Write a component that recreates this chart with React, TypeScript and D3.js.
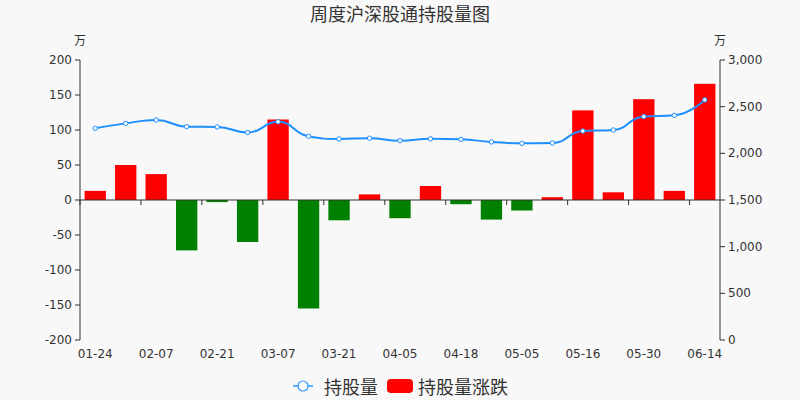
import React from "react";
import * as d3 from "d3";

const categories = [
  "01-24", "01-31", "02-07", "02-14", "02-21", "02-28", "03-07", "03-14", "03-21", "03-28",
  "04-05", "04-11", "04-18", "04-25", "05-05", "05-09", "05-16", "05-23", "05-30", "06-06", "06-14",
];
const holdings = [
  2268, 2321, 2357, 2286, 2283, 2223, 2338, 2183, 2154, 2162,
  2136, 2156, 2150, 2122, 2107, 2111, 2239, 2250, 2394, 2407, 2573,
];
const changes = [
  13, 50, 37, -72, -3, -60, 115, -155, -29, 8,
  -26, 20, -6, -28, -15, 4, 128, 11, 144, 13, 166,
];
const leftTicks = [-200, -150, -100, -50, 0, 50, 100, 150, 200];
const rightTicks = [0, 500, 1000, 1500, 2000, 2500, 3000];

const W = 800;
const H = 400;
const L = 80, R = 720, T = 60, B = 340;
const FONT = "'DejaVu Sans', 'Noto Sans CJK SC', sans-serif";
const CJK = "'Noto Sans CJK SC', 'DejaVu Sans', sans-serif";
const TXT = "#333";

// echarts-like smooth line (smooth = 0.5)
function smoothPath(pts: [number, number][], smooth = 0.5) {
  const p = d3.path();
  let cpx0 = 0, cpy0 = 0;
  const n = pts.length;
  for (let i = 0; i < n; i++) {
    const [x, y] = pts[i];
    if (i === 0) {
      p.moveTo(x, y);
      cpx0 = x; cpy0 = y;
      continue;
    }
    const [prevX, prevY] = pts[i - 1];
    let cpx1 = x, cpy1 = y, nextCpx0 = x, nextCpy0 = y;
    if (i < n - 1) {
      const [nextX, nextY] = pts[i + 1];
      let vx = nextX - prevX, vy = nextY - prevY;
      const dx0 = x - prevX, dy0 = y - prevY, dx1 = nextX - x, dy1 = nextY - y;
      const lenPrev = Math.sqrt(dx0 * dx0 + dy0 * dy0);
      const lenNext = Math.sqrt(dx1 * dx1 + dy1 * dy1);
      const ratio = lenNext / (lenNext + lenPrev);
      nextCpx0 = x + vx * smooth * ratio;
      nextCpy0 = y + vy * smooth * ratio;
      nextCpx0 = Math.max(Math.min(nextCpx0, Math.max(nextX, x)), Math.min(nextX, x));
      nextCpy0 = Math.max(Math.min(nextCpy0, Math.max(nextY, y)), Math.min(nextY, y));
      vx = nextCpx0 - x; vy = nextCpy0 - y;
      cpx1 = x - vx * lenPrev / lenNext;
      cpy1 = y - vy * lenPrev / lenNext;
      cpx1 = Math.max(Math.min(cpx1, Math.max(prevX, x)), Math.min(prevX, x));
      cpy1 = Math.max(Math.min(cpy1, Math.max(prevY, y)), Math.min(prevY, y));
      vx = x - cpx1; vy = y - cpy1;
      nextCpx0 = x + vx * lenNext / lenPrev;
      nextCpy0 = y + vy * lenNext / lenPrev;
    }
    p.bezierCurveTo(cpx0, cpy0, cpx1, cpy1, x, y);
    cpx0 = nextCpx0; cpy0 = nextCpy0;
  }
  return p.toString();
}

export default function App() {
  const x = d3.scaleBand<string>().domain(categories).range([L, R]).padding(0);
  const step = x.bandwidth();
  const barW = step * 0.7;
  const yL = d3.scaleLinear().domain([-200, 200]).range([B, T]);
  const yR = d3.scaleLinear().domain([0, 3000]).range([B, T]);
  const fmt = d3.format(",");
  const cx = (c: string) => (x(c) as number) + step / 2;
  const pts: [number, number][] = categories.map((c, i) => [cx(c), yR(holdings[i])]);
  const zeroY = yL(0);

  return (
    <svg
      width={W}
      height={H}
      style={{ position: "fixed", left: 0, top: 0, background: "#F8F8F8" }}
    >
      <rect x={0} y={0} width={W} height={H} fill="#F8F8F8" />
      <text x={400} y={13} textAnchor="middle" dominantBaseline="central"
        fontFamily={CJK} fontSize={18} fill={TXT}>周度沪深股通持股量图</text>

      {/* unit labels */}
      <text x={L} y={39} textAnchor="middle" dominantBaseline="central" fontFamily={CJK} fontSize={12} fill={TXT}>万</text>
      <text x={R} y={39} textAnchor="middle" dominantBaseline="central" fontFamily={CJK} fontSize={12} fill={TXT}>万</text>

      {/* bars */}
      {categories.map((c, i) => {
        const v = changes[i];
        const y0 = yL(Math.max(0, v));
        const y1 = yL(Math.min(0, v));
        return (
          <rect key={c} x={cx(c) - barW / 2} y={y0} width={barW} height={Math.max(0.5, y1 - y0)}
            fill={v >= 0 ? "#FF0000" : "#008000"} />
        );
      })}

      {/* left axis */}
      <line x1={L} x2={L} y1={T} y2={B} stroke={TXT} strokeWidth={1} />
      {leftTicks.map((t) => (
        <g key={"l" + t}>
          <line x1={L - 5} x2={L} y1={yL(t)} y2={yL(t)} stroke={TXT} />
          <text x={L - 8} y={yL(t)} textAnchor="end" dominantBaseline="central"
            fontFamily={FONT} fontSize={12} fill={TXT}>{t}</text>
        </g>
      ))}

      {/* right axis */}
      <line x1={R} x2={R} y1={T} y2={B} stroke={TXT} strokeWidth={1} />
      {rightTicks.map((t) => (
        <g key={"r" + t}>
          <line x1={R} x2={R + 5} y1={yR(t)} y2={yR(t)} stroke={TXT} />
          <text x={R + 8} y={yR(t)} textAnchor="start" dominantBaseline="central"
            fontFamily={FONT} fontSize={12} fill={TXT}>{fmt(t)}</text>
        </g>
      ))}

      {/* x axis at zero */}
      <line x1={L} x2={R} y1={zeroY} y2={zeroY} stroke={TXT} strokeWidth={1} />
      {categories.map((c, i) =>
        i % 2 === 0 ? (
          <g key={"x" + c}>
            <line x1={x(c) as number} x2={x(c) as number} y1={zeroY} y2={zeroY + 5} stroke={TXT} />
            <text x={cx(c)} y={354} textAnchor="middle" dominantBaseline="central"
              fontFamily={FONT} fontSize={12} fill={TXT}>{c}</text>
          </g>
        ) : null
      )}

      {/* line */}
      <path d={smoothPath(pts)} fill="none" stroke="#1E90FF" strokeWidth={2} />
      {pts.map(([px, py], i) => (
        <circle key={"p" + i} cx={px} cy={py} r={2.2} fill="#fff" stroke="#1E90FF" strokeWidth={1} />
      ))}

      {/* legend */}
      <line x1={293} x2={313} y1={386} y2={386} stroke="#1E90FF" strokeWidth={2} opacity={0.7} />
      <circle cx={303} cy={386} r={5} fill="#fff" stroke="#1E90FF" strokeWidth={1.2} opacity={0.9} />
      <text x={324} y={386} dominantBaseline="central" fontFamily={CJK} fontSize={18} fill={TXT}>持股量</text>
      <rect x={387} y={379} width={26} height={14} rx={4} fill="#FF0000" />
      <text x={418} y={386} dominantBaseline="central" fontFamily={CJK} fontSize={18} fill={TXT}>持股量涨跌</text>
    </svg>
  );
}
